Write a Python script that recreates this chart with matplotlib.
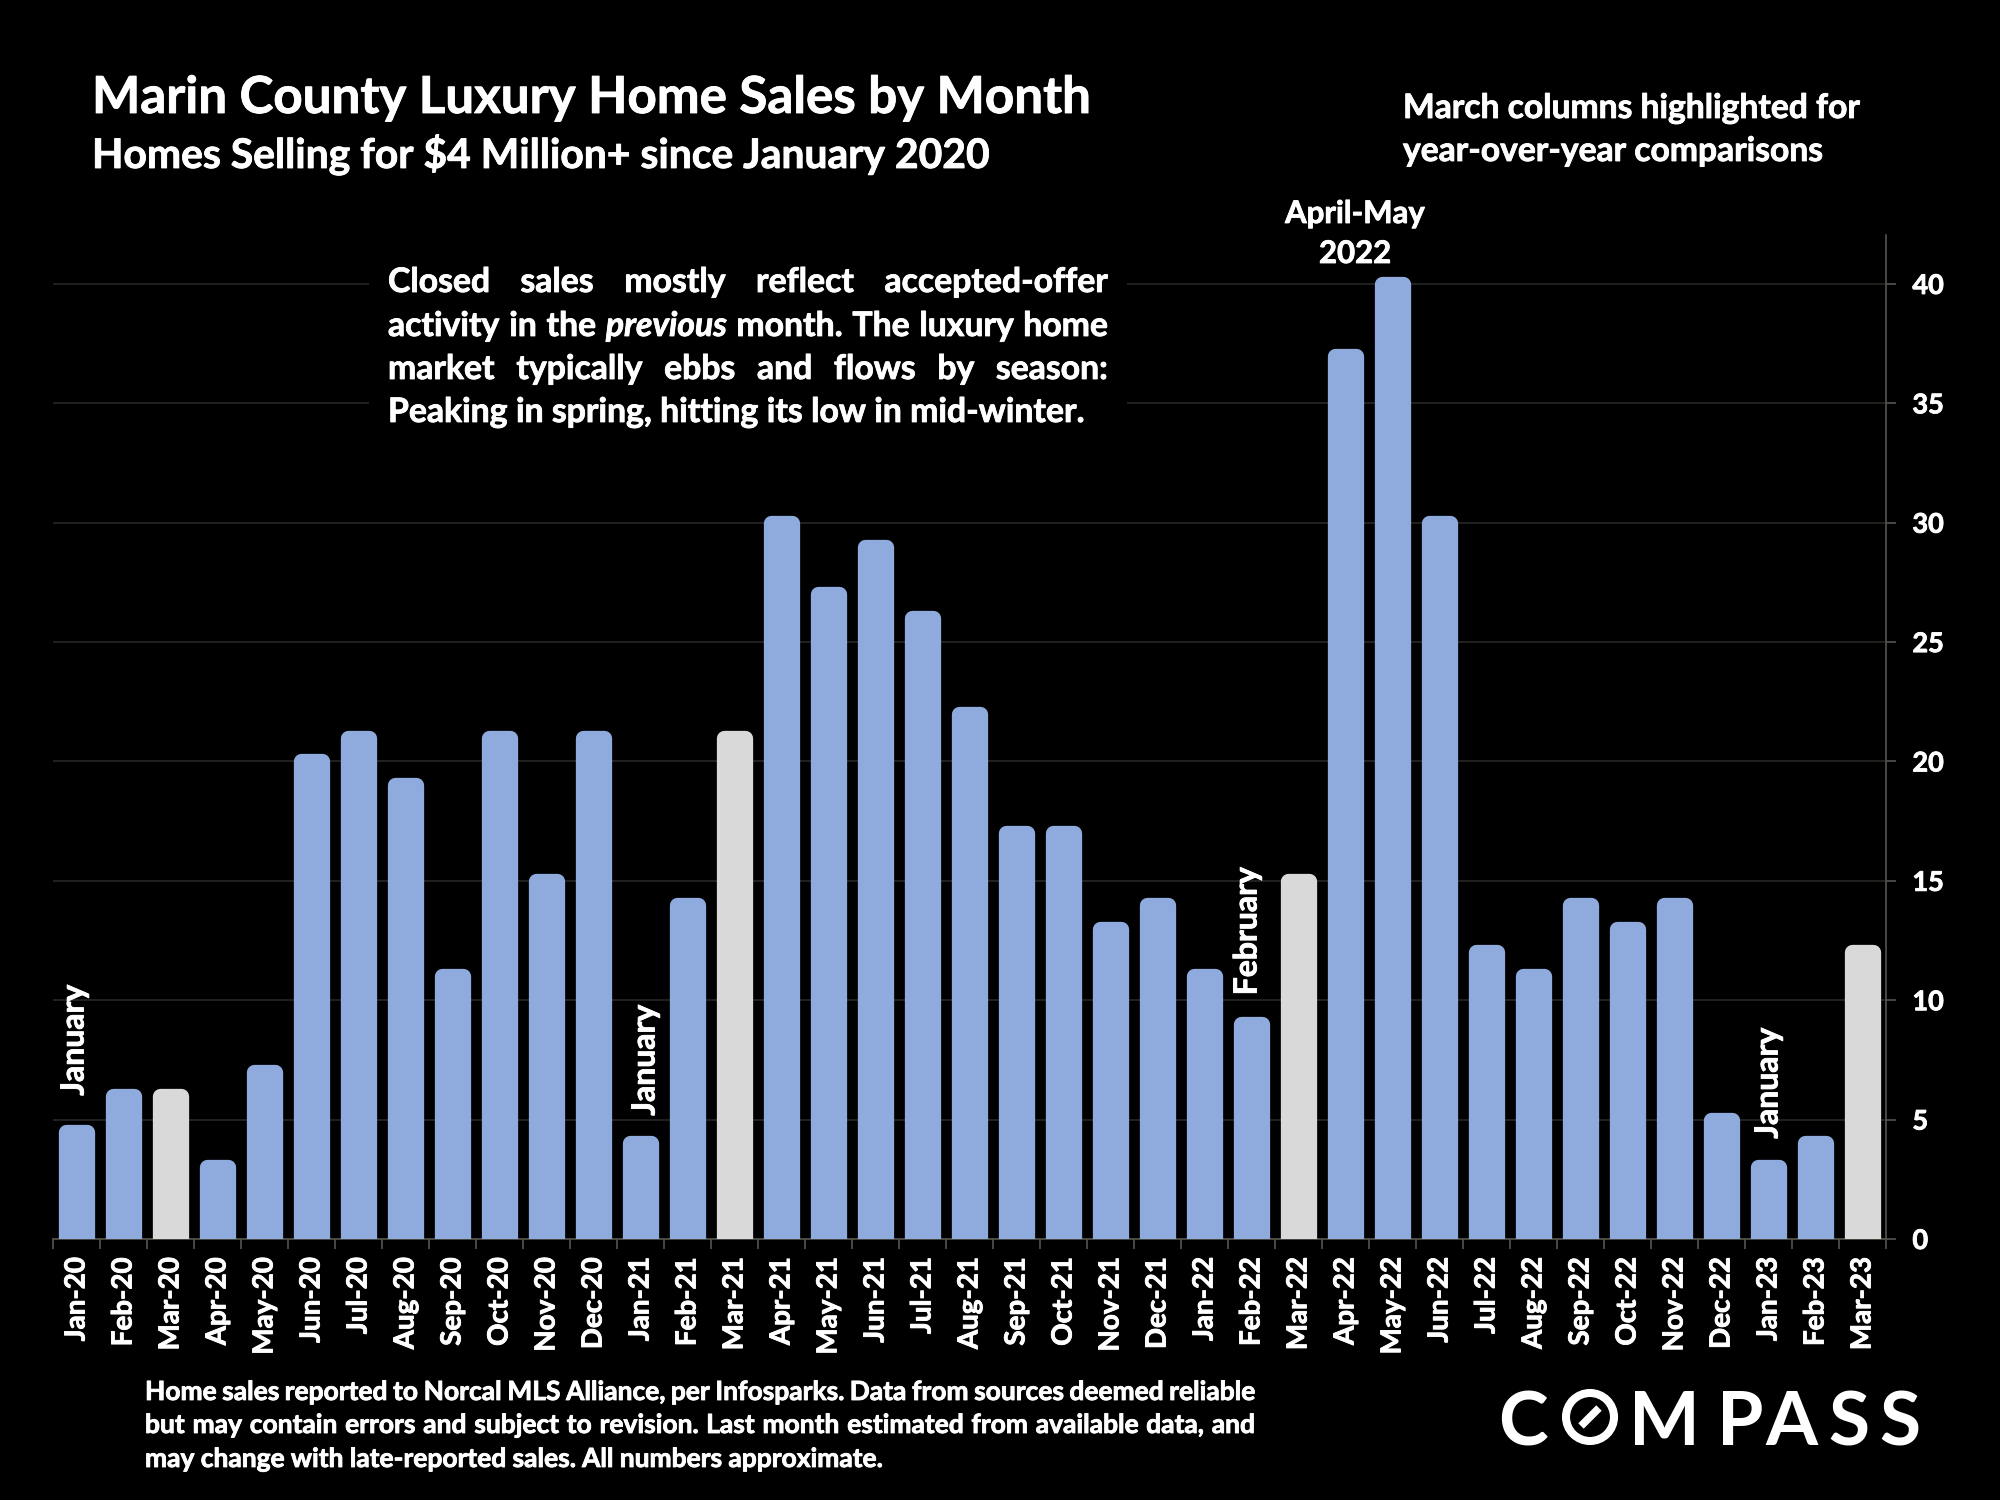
#!/usr/bin/env python3

import matplotlib
matplotlib.use('Agg')
import numpy as np
import matplotlib.pyplot as plt
import matplotlib.patheffects as pe
from matplotlib.patches import Circle, Rectangle
from matplotlib.text import Text

months = ['Jan-20', 'Feb-20', 'Mar-20', 'Apr-20', 'May-20', 'Jun-20', 'Jul-20', 'Aug-20', 'Sep-20', 'Oct-20',
          'Nov-20', 'Dec-20', 'Jan-21', 'Feb-21', 'Mar-21', 'Apr-21', 'May-21', 'Jun-21', 'Jul-21', 'Aug-21',
          'Sep-21', 'Oct-21', 'Nov-21', 'Dec-21', 'Jan-22', 'Feb-22', 'Mar-22', 'Apr-22', 'May-22', 'Jun-22',
          'Jul-22', 'Aug-22', 'Sep-22', 'Oct-22', 'Nov-22', 'Dec-22', 'Jan-23', 'Feb-23', 'Mar-23']
sales = [4.5, 6, 6, 3, 7, 20, 21, 19, 11, 21,
         15, 21, 4, 14, 21, 30, 27, 29, 26, 22,
         17, 17, 13, 14, 11, 9, 15, 37, 40, 30,
         12, 11, 14, 13, 14, 5, 3, 4, 12]
yticks = [0, 5, 10, 15, 20, 25, 30, 35, 40]

title = 'Marin County Luxury Home Sales by Month'
subtitle = 'Homes Selling for $4 Million+ since January 2020'
note = ['March columns highlighted for', 'year-over-year comparisons']
box_lines = [(['Closed', 'sales', 'mostly', 'reflect', 'accepted-offer'], True),
             (['activity', 'in', 'the', '*previous', 'month.', 'The', 'luxury', 'home'], True),
             (['market', 'typically', 'ebbs', 'and', 'flows', 'by', 'season:'], True),
             (['Peaking', 'in', 'spring,', 'hitting', 'its', 'low', 'in', 'mid-winter.'], False)]
foot_lines = [('Home sales reported to Norcal MLS Alliance, per Infosparks. Data from sources deemed reliable', True),
              ('but may contain errors and subject to revision.  Last month estimated from available data, and', True),
              ('may change with late-reported sales. All numbers approximate.', False)]

BLUE = '#8FAADC'
GREY = '#D9D9D9'
LINE = '#55554E'
GRID = '#2B2B29'
W, H = 2000, 1500

plt.rcParams['font.family'] = ['Lato', 'DejaVu Sans']
plt.rcParams['font.weight'] = 'bold'

fig = plt.figure(figsize=(20, 15), dpi=100, facecolor='black')
ax = fig.add_axes([53/W, 1 - 1239/H, (1886 - 53)/W, (1239 - 235)/H], facecolor='black')

x = np.arange(len(months))
colors = [GREY if m.startswith('Mar') else BLUE for m in months]
# thick round-joined edge gives the soft corners on the columns
ax.bar(x, sales, width=0.435, color=colors, edgecolor=colors, linewidth=11.0, joinstyle='round', zorder=3)

ax.set_xlim(-0.5, len(months) - 0.5)
ax.set_ylim(0, 42.05)
ax.yaxis.tick_right()
ax.set_yticks(yticks)
ax.set_xticks(x)
ax.set_xticklabels(months, rotation=90, ha='center', va='top', color='white', fontsize=20)
ax.set_xticks(np.arange(len(months) + 1) - 0.5, minor=True)
ax.tick_params(axis='x', which='major', length=0, pad=13)
ax.tick_params(axis='x', which='minor', length=7, width=1.2, color=LINE)
ax.tick_params(axis='y', length=7, width=1.2, color=LINE, labelcolor='white', labelsize=19.5, pad=12)
ax.grid(axis='y', color=GRID, linewidth=1.1, zorder=0)
ax.set_axisbelow(True)
for s in ['top', 'left']:
    ax.spines[s].set_visible(False)
for s in ['bottom', 'right']:
    ax.spines[s].set_color(LINE)
    ax.spines[s].set_linewidth(1.2)

# overlay in reference pixel coordinates for the slide text
ov = fig.add_axes([0, 0, 1, 1], facecolor='none')
ov.set_xlim(0, W)
ov.set_ylim(H, 0)
ov.axis('off')
renderer = fig.canvas.get_renderer()


def word_width(word, size, style='normal'):
    t = ov.text(0, 0, word, fontsize=size, fontstyle=style)
    w = t.get_window_extent(renderer).width
    t.remove()
    return w


def set_line(words, x0, x1, y, size, justify):
    parts = [(w.lstrip('*'), 'italic' if w.startswith('*') else 'normal') for w in words]
    widths = [word_width(p, size, st) for p, st in parts]
    if justify and len(parts) > 1:
        gap = (x1 - x0 - sum(widths)) / (len(parts) - 1)
    else:
        gap = word_width('a a', size) - 2 * word_width('a', size)
    pos = x0
    for (p, st), w in zip(parts, widths):
        ov.text(pos, y, p, fontsize=size, fontstyle=st, color='white', va='baseline', ha='left')
        pos += w + gap


ov.text(92, 113, title, fontsize=36.8, color='white', va='baseline')
ov.text(92, 168, subtitle, fontsize=29.4, color='white', va='baseline')
ov.text(1403, 118, note[0], fontsize=24.2, color='white', va='baseline')
ov.text(1403, 161, note[1], fontsize=24.2, color='white', va='baseline')
ov.text(1355, 223, 'April-May', fontsize=22.4, color='white', va='baseline', ha='center')
ov.text(1355, 263, '2022', fontsize=22.4, color='white', va='baseline', ha='center')

ov.add_patch(Rectangle((369, 262), 758, 170, facecolor='black', edgecolor='none', zorder=1))
for (words, justify), y in zip(box_lines, [292, 336, 379, 422]):
    set_line(words, 388, 1108, y, 24.3, justify)

for (line, justify), y in zip(foot_lines, [1400, 1433, 1467]):
    set_line(line.split(), 145, 1255, y, 19, justify)

for label, xp, yp in [('January', 74, 1040), ('January', 645, 1060), ('February', 1247, 931), ('January', 1768, 1083)]:
    ov.text(xp, yp, label, fontsize=23, color='white', rotation=90, ha='center', va='center')

# reference text is a heavier face than Lato Bold, thicken it a touch
for t in fig.findobj(Text):
    t.set_path_effects([pe.withStroke(linewidth=0.6, foreground='white')])

# logo
for ch, xp in [('C', 1523), ('M', 1664.5), ('P', 1740), ('A', 1791), ('S', 1849), ('S', 1899.5)]:
    ov.text(xp, 1417, ch, fontsize=54, color='white', ha='center', va='center_baseline')
ov.add_patch(Circle((1590, 1417), 24, facecolor='none', edgecolor='white', linewidth=5.8))
ov.plot([1581, 1599], [1426, 1408], color='white', linewidth=5.5, solid_capstyle='butt')

fig.savefig('out.png', facecolor='black')
